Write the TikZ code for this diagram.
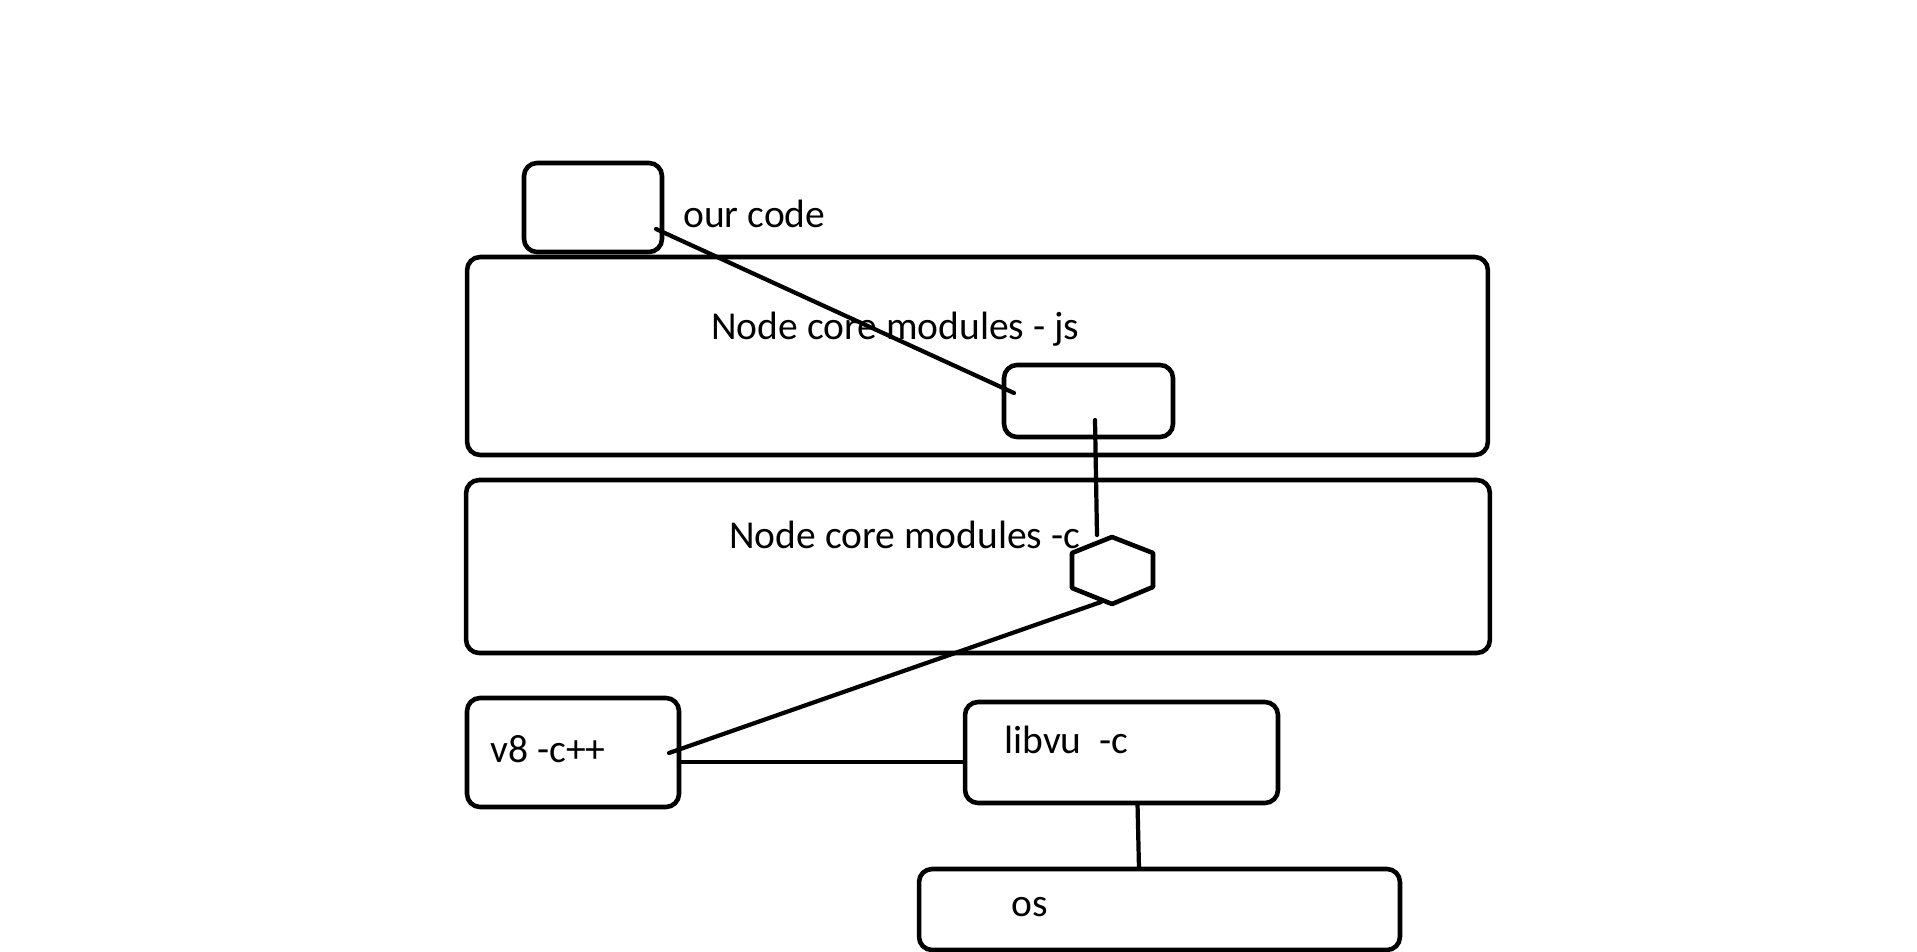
\documentclass[tikz,border=0pt]{standalone}
\usepackage{fontspec}
\setmainfont{Carlito}
\usepackage{tikz}
\usetikzlibrary{calc,shapes}

\begin{document}
\begin{tikzpicture}[
    x=0.02cm, y=-0.02cm,
    box line/.style={line width=2.6pt},
    link line/.style={line width=2.4pt, line cap=round},
    box/.style={box line, draw, rectangle, rounded corners=0.26cm,
    inner sep=0pt, outer sep=0pt},
    label text/.style={anchor=base west, inner sep=0pt,
    font=\fontsize{22.5}{27}\selectfont},
    every node/.style={color=black}
    ]
    \useasboundingbox (0,0) rectangle (1917,952);
    % Boxes
    \node[box, minimum width=2.76cm, minimum height=1.78cm] (ours) at (593,207.5) {};
    \node[box, minimum width=20.42cm, minimum height=3.96cm] (jscore) at (977.5,356) {};
    \node[box, minimum width=3.38cm, minimum height=1.44cm] (jsmod) at (1088.5,401) {};
    \node[box, minimum width=20.48cm, minimum height=3.46cm] (ccore) at (978,566.5) {};
    \node[box, minimum width=4.24cm, minimum height=2.18cm] (v8) at (573,752.5) {};
    \node[box, minimum width=6.26cm, minimum height=2.02cm] (libvu) at (1121.5,752.5) {};
    \node[box, minimum width=9.62cm, minimum height=1.62cm] (os) at (1159.5,909.5) {};
    % The hexagon is drawn by hand, it is a bit wider than a regular one
    \coordinate (hex) at (1112,570);
    \draw[box line, line join=round] ($(hex)+(0,-33)$) -- ($(hex)+(41,-17)$)
        -- ($(hex)+(41,17)$) -- ($(hex)+(0,34)$) -- ($(hex)+(-40,18)$)
        -- ($(hex)+(-40,-17)$) -- cycle;
    % Texts
    \node[label text] (ourslbl) at (683,228) {our code};
    \node[label text] (jslbl) at (711,340) {Node core modules - js};
    \node[label text] (clbl) at (729,549) {Node core modules -c};
    \node[label text] (v8lbl) at (490,762) {v8 -c++};
    \node[label text] (libvulbl) at (1004,753) {libvu\ \ -c};
    \node[label text] (oslbl) at (1011,916) {os};
    % Lines
    \coordinate (ours-out) at (656,229);
    \coordinate (jsmod-in) at (1014,393);
    \coordinate (jsmod-out) at (1095,420);
    \coordinate (hex-top) at (1097,535);
    \coordinate (hex-out) at (1101,602);
    \coordinate (v8-in) at (669,753);
    \draw[link line] (ours-out) -- (jsmod-in);
    \draw[link line] (jsmod-out) -- (hex-top);
    \draw[link line] (hex-out) -- (v8-in);
    \draw[link line] ([yshift=-0.19cm]v8.east) -- ([yshift=-0.19cm]libvu.west);
    \draw[link line] ([xshift=0.32cm]libvu.south) -- ([xshift=-0.41cm]os.north);
\end{tikzpicture}
\end{document}
